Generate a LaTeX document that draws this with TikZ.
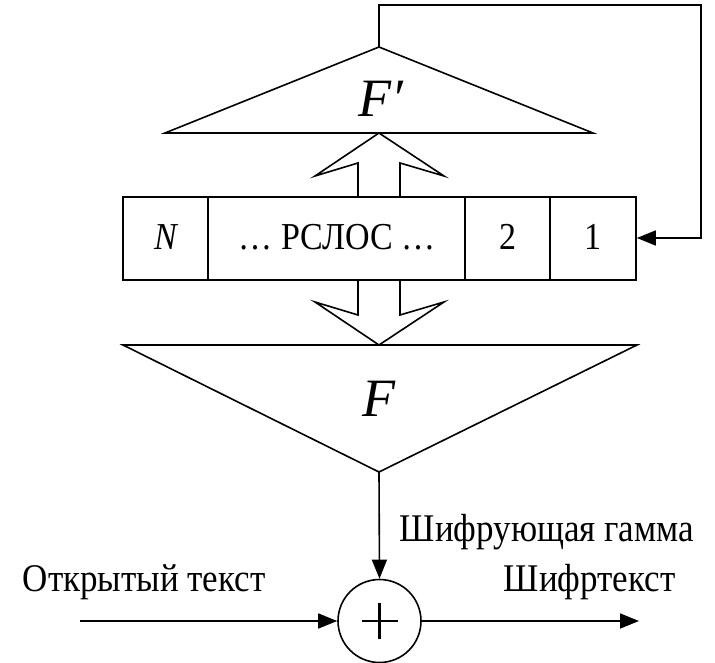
\documentclass[tikz,border=0pt]{standalone}
\usepackage{graphicx}
\usepackage{fontspec}
\setmainfont{Liberation Serif}
\usetikzlibrary{arrows.meta}
\newcommand\vstretch[1]{\scalebox{1}[1.12]{#1}}
\begin{document}
\begin{tikzpicture}[x=1pt,y=-1pt,line width=1.6pt,line join=miter,
  conn/.style={line width=1.6pt,-{Triangle[length=19pt,width=15pt]}},
  txt/.style={font=\fontsize{35}{40}\selectfont,inner sep=0pt},
  regtxt/.style={font=\fontsize{34}{40}\selectfont,inner sep=0pt},
  big/.style={font=\fontsize{54}{60}\selectfont,inner sep=0pt}]
\useasboundingbox (0,0) rectangle (715,663);
% triangles
\coordinate (fpapex) at (379,47);
\coordinate (fapex) at (379,472);
\draw (165,133) -- (fpapex) -- (593,133) -- cycle;
\node[big,anchor=base] (fplbl) at (381,117) {\itshape F′};
\draw (123,345) -- (fapex) -- (637,345) -- cycle;
\node[big,anchor=base] (flbl) at (379,416) {\itshape F};
% register
\node[draw,line width=1.6pt,minimum width=513pt,minimum height=83pt,inner sep=0pt] (reg) at (379.5,238.5) {};
\draw (208,197) -- (208,280);
\draw (465,197) -- (465,280);
\draw (550,197) -- (550,280);
\node[regtxt,anchor=base] (cN) at (166,250) {\vstretch{\itshape N}};
\node[regtxt,anchor=base] (cmid) at (337,250) {\vstretch{… РСЛОС …}};
\node[regtxt,anchor=base] (c2) at (507.5,250) {\vstretch{2}};
\node[regtxt,anchor=base] (c1) at (593,250) {\vstretch{1}};
% block arrows
\draw (400,197) -- (400,163) -- (444,176) -- (379,133) -- (315,176) -- (358,163) -- (358,197);
\draw (358,280) -- (358,315) -- (315,302) -- (379,345) -- (444,302) -- (400,315) -- (400,280);
% feedback
\coordinate (fb1) at (379,5);
\coordinate (fb2) at (701,5);
\coordinate (fb3) at (701,238);
\draw[conn] (fpapex) -- (fb1) -- (fb2) -- (fb3) -- (reg.east |- fb3);
% xor
\node[draw,circle,line width=1.6pt,minimum size=83pt,inner sep=0pt] (xor) at (379.5,621) {};
\draw[line width=2.6pt] ([xshift=-18pt]xor.center) -- ([xshift=18pt]xor.center);
\draw[line width=2.6pt] ([yshift=18pt]xor.center) -- ([yshift=-18pt]xor.center);
\draw[conn] (fapex) -- (xor.north);
\coordinate (in) at (80,621);
\coordinate (out) at (639,621);
\draw[conn] (in) -- (xor.west);
\draw[conn] (xor.east) -- (out);
\node[txt,anchor=base west] (gamma) at (399,541) {\vstretch{Шифрующая гамма}};
\node[txt,anchor=base west] (open) at (22,591) {\vstretch{Открытый текст}};
\node[txt,anchor=base west] (cipher) at (503,591) {\vstretch{Шифртекст}};
\end{tikzpicture}
\end{document}
